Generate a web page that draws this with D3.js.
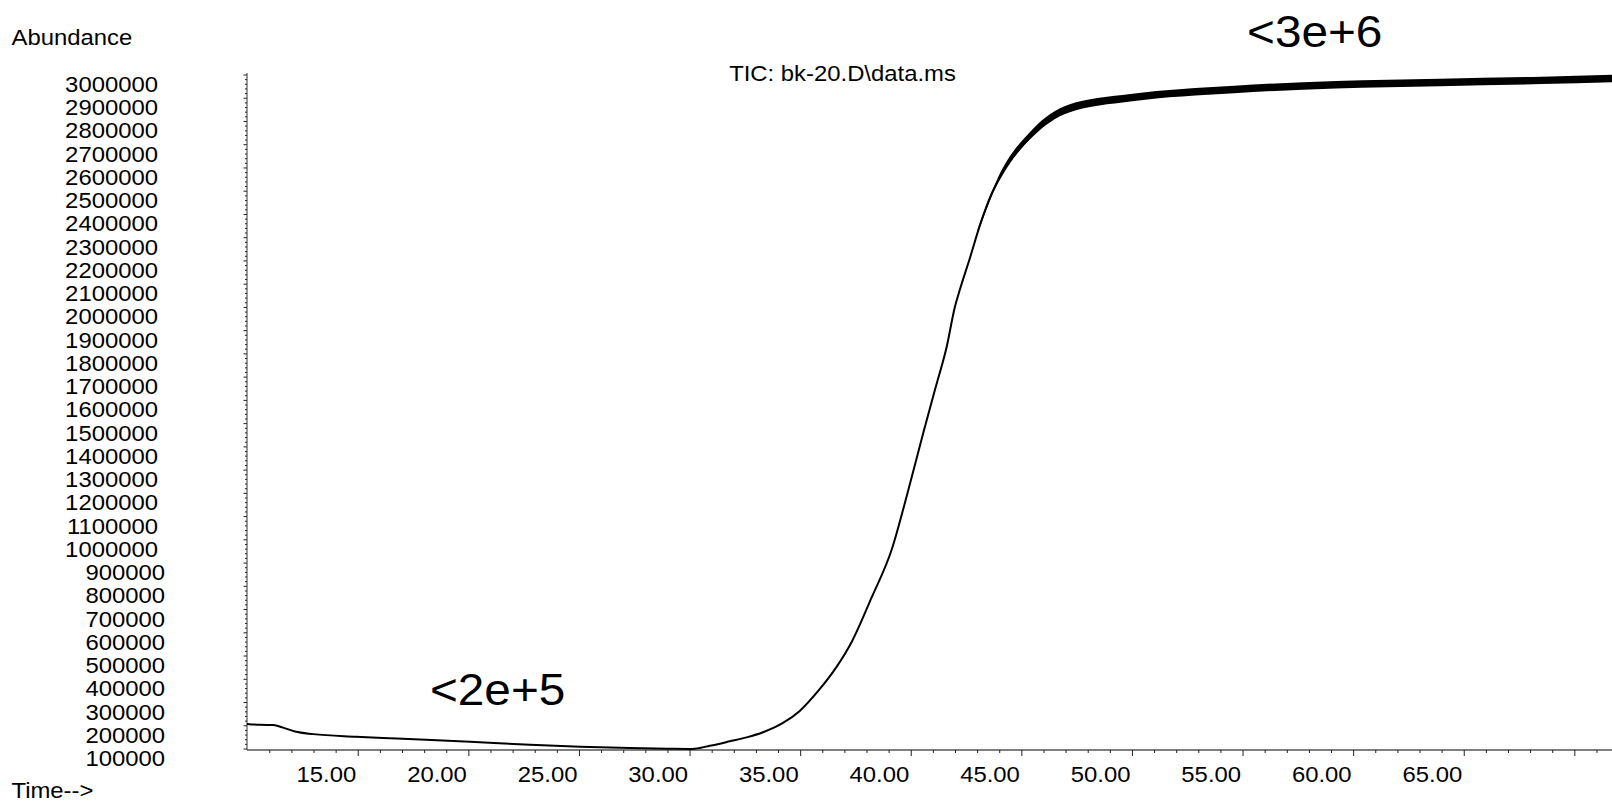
<!DOCTYPE html>
<html>
<head>
<meta charset="utf-8">
<script src="https://cdn.jsdelivr.net/npm/d3@7"></script>
<style>
  html, body { margin: 0; padding: 0; background: #fff; }
  svg { display: block; }
  text { font-family: "Liberation Sans", Arial, sans-serif; fill: #000; }
</style>
</head>
<body>
<svg id="chart" width="1612" height="802"></svg>
<script>
// ---- data ----
const times = [9.97, 10.56, 11.16, 11.6, 12.14, 12.97, 14.9, 16.74, 20.05, 22.77, 25.03, 27.29, 29.0, 30.1,
  30.9, 31.8, 32.56, 33.3, 34.2, 34.96, 35.84, 36.6, 37.33, 38.2, 39.14, 39.8, 40.53, 41.1, 41.6, 41.98,
  42.21, 42.66, 43.11, 43.64, 44.01, 44.47, 45.07, 45.6, 46.3, 47.14, 48.5, 49.93, 52.25, 54.57, 59.22, 63.87, 68.51, 71.68];
const abundance = [208000, 204000, 203000, 192000, 175000, 164000, 153000, 145000, 131000, 118000, 110000, 104000, 101500, 100500,
  114000, 133000, 150000, 172000, 212000, 264000, 355000, 450000, 565000, 750000, 965000, 1190000, 1455000, 1655000, 1830000, 2005000,
  2080000, 2215000, 2355000, 2490000, 2558000, 2628000, 2700000, 2760000, 2814000, 2855000, 2885000, 2902000, 2925000, 2938000, 2958000, 2968000, 2977000, 2985000];

// noise envelope of the plateau
const noiseTimes = [43.0, 43.9, 45.5, 47.1, 49.9, 54.6, 59.2, 63.9, 68.5, 71.68];
const noiseLow  = [2318000, 2533000, 2735000, 2838000, 2886000, 2922000, 2942000, 2952000, 2961000, 2969000];
const noiseHigh = [2336000, 2555000, 2768000, 2872000, 2918000, 2954000, 2974000, 2984000, 2993000, 3001000];

const xTickLabels = ["15.00", "20.00", "25.00", "30.00", "35.00", "40.00", "45.00", "50.00", "55.00", "60.00", "65.00"];
const xMajorTicks = [15, 20, 25, 30, 35, 40, 45, 50, 55, 60, 65, 70];
const yTickLabels = ["100000", "200000", "300000", "400000", "500000", "600000", "700000", "800000", "900000", "1000000",
  "1100000", "1200000", "1300000", "1400000", "1500000", "1600000", "1700000", "1800000", "1900000", "2000000",
  "2100000", "2200000", "2300000", "2400000", "2500000", "2600000", "2700000", "2800000", "2900000", "3000000"];

const title = "TIC: bk-20.D\\data.ms";
const annotations = [
  { text: "<2e+5", t: 18.24, v: 289000 },
  { text: "<3e+6", t: 55.18, v: 3120000 }
];

// ---- layout ----
const svg = d3.select("#chart");
const SX = 1.085; // horizontal stretch of the lettering in the original
const x = d3.scaleLinear().domain([9.97, 71.68]).range([247, 1612]);
const y = d3.scaleLinear().domain([95700, 3008600]).range([750, 73]);

function stretchedText(g, str, px, py, size, anchor) {
  return g.append("text")
    .attr("transform", `translate(${px},${py}) scale(${SX},1)`)
    .attr("text-anchor", anchor || "start")
    .style("font-size", size + "px")
    .text(str);
}

// y axis
const yAxis = svg.append("g");
yAxis.append("line").attr("x1", 247).attr("x2", 247).attr("y1", 73).attr("y2", 750)
  .attr("stroke", "#555").attr("stroke-width", 1.2);
const yMinor = d3.range(100000, 3000001, 20000);
yAxis.selectAll("line.ym").data(yMinor).join("line")
  .attr("x1", d => (d % 100000 === 0) ? 243.5 : 245)
  .attr("x2", 247)
  .attr("y1", d => y(d)).attr("y2", d => y(d))
  .attr("stroke", "#222").attr("stroke-width", 1);
yTickLabels.forEach(lbl => {
  const v = +lbl;
  stretchedText(svg, lbl, lbl.length > 6 ? 158 : 165, y(v) + 17, 22, "end");
});

// x axis
const xAxis = svg.append("g");
xAxis.append("line").attr("x1", 247).attr("x2", 1612).attr("y1", 750).attr("y2", 750)
  .attr("stroke", "#555").attr("stroke-width", 1.6);
const xMinor = d3.range(11, 72, 1);
xAxis.selectAll("line.xm").data(xMinor).join("line")
  .attr("x1", d => x(d)).attr("x2", d => x(d))
  .attr("y1", 750).attr("y2", d => xMajorTicks.includes(d) ? 756 : 753)
  .attr("stroke", "#222").attr("stroke-width", 1);
xTickLabels.forEach(lbl => {
  stretchedText(svg, lbl, x(+lbl) - 2, 782, 22, "end");
});

// noise band
svg.append("path")
  .datum(noiseTimes.map((t, i) => ({ t, lo: noiseLow[i], hi: noiseHigh[i] })))
  .attr("d", d3.area().x(d => x(d.t)).y0(d => y(d.lo)).y1(d => y(d.hi)).curve(d3.curveMonotoneX))
  .attr("fill", "#000");

// trace
svg.append("path")
  .datum(times.map((t, i) => ({ t, v: abundance[i] })))
  .attr("d", d3.line().x(d => x(d.t)).y(d => y(d.v)).curve(d3.curveMonotoneX))
  .attr("fill", "none").attr("stroke", "#000").attr("stroke-width", 2);

// texts
stretchedText(svg, "Abundance", 11.5, 45, 22, "start");
stretchedText(svg, "Time-->", 11.5, 798, 22, "start");
stretchedText(svg, title, 842.5, 81, 22, "middle");
annotations.forEach(a => stretchedText(svg, a.text, x(a.t), y(a.v), 44, "start"));
</script>
</body>
</html>
